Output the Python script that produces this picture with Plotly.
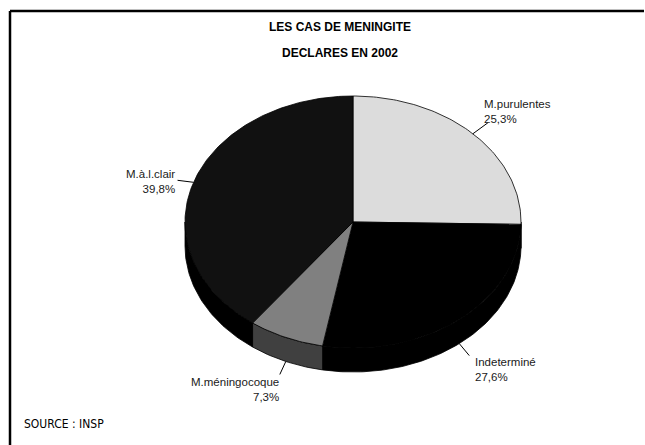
import math

import plotly.graph_objects as go

# data
labels = ["M.purulentes", "Indeterminé", "M.méningocoque", "M.à.l.clair"]
percents = [25.3, 27.6, 7.3, 39.8]

# styles
top_colors = ["#dcdcdc", "#000000", "#808080", "#111111"]
side_colors = ["#9a9a9a", "#000000", "#404040", "#000000"]
label_pos = {  # x, y, anchor
    "M.purulentes": (482, 111, "left"),
    "Indeterminé": (473, 369, "left"),
    "M.méningocoque": (281, 389, "right"),
    "M.à.l.clair": (177, 181, "right"),
}
leader_offset = {
    "M.purulentes": (15, -11),
    "Indeterminé": (10, 12),
    "M.méningocoque": (-6, 13),
    "M.à.l.clair": (-16, -2),
}

# pie geometry (pixel units, figure coordinates)
CX, CY, RX, RY, DEPTH = 353, 222, 168, 126, 24
FONT = "Liberation Sans, Arial, sans-serif"


def arc(a0, a1, dy=0.0, step=1.0):
    n = max(2, int(abs(a1 - a0) / step) + 1)
    angs = [a0 + (a1 - a0) * i / (n - 1) for i in range(n)]
    xs = [CX + RX * math.cos(math.radians(a)) for a in angs]
    ys = [CY - RY * math.sin(math.radians(a)) + dy for a in angs]
    return xs, ys


total = sum(percents)
bounds = []
start = 90.0
for p in percents:
    end = start - 360.0 * p / total
    bounds.append((start, end))
    start = end

fig = go.Figure()

# side walls (front half only)
for (a0, a1), col in zip(bounds, side_colors):
    hi, lo = min(a0, 0.0), max(a1, -180.0)
    if hi <= lo:
        continue
    tx, ty = arc(hi, lo)
    bx, by = arc(lo, hi, dy=DEPTH)
    fig.add_trace(
        go.Scatter(
            x=tx + bx + [tx[0]],
            y=ty + by + [ty[0]],
            mode="lines",
            fill="toself",
            fillcolor=col,
            line=dict(color="#000000", width=0.8),
            hoverinfo="skip",
            showlegend=False,
        )
    )

# top faces
for (a0, a1), col, lab, p in zip(bounds, top_colors, labels, percents):
    ax, ay = arc(a0, a1)
    fig.add_trace(
        go.Scatter(
            x=[CX] + ax + [CX],
            y=[CY] + ay + [CY],
            mode="lines",
            fill="toself",
            fillcolor=col,
            line=dict(color="#000000", width=0.8),
            name=lab,
            hovertemplate=f"{lab}: {p}%<extra></extra>",
            showlegend=False,
        )
    )

# labels and leader lines
for (a0, a1), lab, p in zip(bounds, labels, percents):
    mid = (a0 + a1) / 2
    sx = CX + RX * math.cos(math.radians(mid))
    sy = CY - RY * math.sin(math.radians(mid))
    if math.sin(math.radians(mid)) < 0:
        sy += DEPTH
    dx, dy = leader_offset[lab]
    fig.add_shape(
        type="line", x0=sx, y0=sy, x1=sx + dx, y1=sy + dy,
        xref="x", yref="y", line=dict(color="#000000", width=1),
    )
    x, y, anchor = label_pos[lab]
    pct = str(p).replace(".", ",")
    fig.add_annotation(
        x=x, y=y, xref="x", yref="y", text=f"{lab}<br>{pct}%", showarrow=False,
        xanchor=anchor, yanchor="middle", align=anchor,
        font=dict(family=FONT, size=11.5, color="#1a1a1a"),
    )

# titles
for text, y in [("LES CAS DE MENINGITE", 27), ("DECLARES EN 2002", 53)]:
    fig.add_annotation(
        x=340, y=y, xref="x", yref="y", text=f"<b>{text}</b>", showarrow=False,
        xanchor="center", yanchor="middle",
        font=dict(family=FONT, size=12, color="#000000"),
    )

fig.add_annotation(
    x=22, y=424, xref="x", yref="y", text="SOURCE : INSP", showarrow=False,
    xanchor="left", yanchor="middle",
    font=dict(family="DejaVu Sans Condensed, Liberation Sans Narrow, sans-serif",
              size=12, color="#000000"),
)

# frame (top and left rules)
fig.add_shape(type="line", x0=10, y0=11, x1=644, y1=11, xref="x", yref="y",
              line=dict(color="#000000", width=2.5))
fig.add_shape(type="line", x0=10, y0=11, x1=10, y1=445, xref="x", yref="y",
              line=dict(color="#000000", width=2.5))

fig.update_layout(
    width=645,
    height=445,
    margin=dict(l=0, r=0, t=0, b=0),
    paper_bgcolor="white",
    plot_bgcolor="white",
    xaxis=dict(range=[0, 645], visible=False, fixedrange=True),
    yaxis=dict(range=[445, 0], visible=False, fixedrange=True),
    showlegend=False,
)

fig.write_html(
    "out.html",
    config={"displayModeBar": False},
    post_script="document.body.style.margin = '0'; document.body.style.overflow = 'hidden';",
)
